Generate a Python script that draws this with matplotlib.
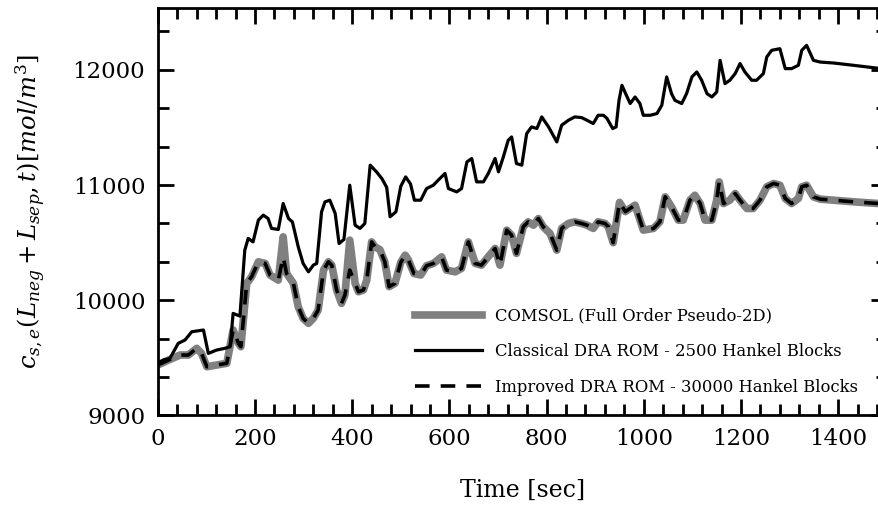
import numpy as np
import matplotlib
matplotlib.use("Agg")
from matplotlib import pyplot as plt
from matplotlib.ticker import MultipleLocator

# time [s] and concentration [mol/m^3]
t_comsol = [0, 22, 46, 63, 80, 90, 101, 121, 142, 155, 166, 171, 183, 193, 207, 221, 231, 248, 258, 265,
            279, 289, 299, 310, 320, 330, 341, 351, 358, 368, 378, 385, 395, 406, 413, 423, 430, 440, 447, 457,
            467, 476, 488, 500, 509, 515, 527, 541, 553, 567, 584, 594, 612, 625, 639, 653, 666, 677, 694, 704,
            718, 728, 738, 752, 762, 773, 783, 793, 807, 821, 831, 845, 858, 872, 883, 896, 906, 920, 927, 937,
            950, 962, 982, 999, 1020, 1033, 1044, 1057, 1071, 1081, 1095, 1105, 1116, 1126, 1140, 1150, 1155, 1164,
            1177, 1188, 1198, 1212, 1225, 1239, 1253, 1267, 1280, 1291, 1304, 1318, 1325, 1335, 1349, 1363, 1390,
            1431, 1500]
c_comsol = [9438, 9481, 9525, 9525, 9583, 9539, 9423, 9438, 9453, 9742, 9626, 9597, 10147, 10204, 10334, 10320,
            10219, 10175, 10551, 10233, 10147, 9944, 9843, 9800, 9843, 9915, 10262, 10334, 10305, 10089, 9973,
            10045, 10522, 10147, 10074, 10089, 10175, 10507, 10464, 10440, 10335, 10118, 10147, 10330, 10392,
            10355, 10233, 10219, 10300, 10320, 10377, 10262, 10247, 10277, 10507, 10320, 10305, 10363, 10450,
            10305, 10609, 10565, 10407, 10638, 10681, 10652, 10710, 10638, 10580, 10435, 10624, 10667, 10681,
            10667, 10652, 10624, 10681, 10667, 10638, 10500, 10850, 10770, 10826, 10609, 10624, 10681, 10898,
            10811, 10696, 10696, 10869, 10912, 10840, 10696, 10696, 10869, 11028, 10840, 10869, 10927, 10869,
            10797, 10797, 10869, 10985, 11014, 10999, 10884, 10840, 10884, 10985, 10999, 10898, 10878, 10869,
            10855, 10835]

# improved ROM follows COMSOL except at a couple of spikes
c_improved = list(c_comsol)
c_improved[t_comsol.index(258)] = 10377
c_improved[t_comsol.index(395)] = 10262

t_classical = [0, 11, 25, 42, 56, 70, 94, 104, 121, 138, 149, 155, 169, 179, 186, 196, 207, 217, 227, 234,
               248, 258, 269, 277, 289, 299, 310, 320, 327, 337, 344, 354, 365, 373, 383, 395, 406, 416, 426, 437,
               450, 461, 471, 478, 490, 500, 510, 520, 528, 541, 553, 567, 577, 591, 598, 615, 625, 636, 646, 656,
               670, 680, 694, 701, 711, 721, 728, 738, 749, 759, 769, 780, 790, 804, 821, 831, 845, 858, 872, 883,
               896, 906, 917, 924, 936, 943, 949, 955, 963, 972, 982, 992, 999, 1013, 1027, 1037, 1047, 1057, 1064,
               1078, 1088, 1099, 1109, 1119, 1130, 1140, 1150, 1157, 1167, 1177, 1188, 1198, 1208, 1222, 1232, 1246,
               1253, 1263, 1280, 1291, 1304, 1318, 1325, 1335, 1349, 1363, 1390, 1431, 1500]
c_classical = [9452, 9481, 9496, 9626, 9655, 9727, 9742, 9539, 9568, 9583, 9597, 9886, 9863, 10435, 10537, 10507,
               10696, 10739, 10710, 10624, 10615, 10840, 10710, 10680, 10464, 10320, 10247, 10305, 10320, 10768,
               10854, 10869, 10754, 10493, 10528, 10999, 10652, 10624, 10667, 11173, 11115, 11057, 10980, 10725,
               10768, 10990, 11071, 11010, 10869, 10869, 10970, 10999, 11043, 11101, 10970, 10941, 10970, 11201,
               11231, 11028, 11028, 11101, 11231, 11115, 11245, 11389, 11418, 11187, 11173, 11447, 11505, 11491,
               11592, 11505, 11375, 11520, 11563, 11592, 11586, 11563, 11534, 11606, 11606, 11580, 11491, 11505,
               11736, 11866, 11790, 11708, 11765, 11708, 11606, 11606, 11621, 11693, 11939, 11794, 11736, 11708,
               11794, 11939, 11982, 11910, 11794, 11765, 11808, 12083, 11881, 11910, 11968, 12055, 11982, 11910,
               11910, 11968, 12112, 12170, 12184, 12011, 12011, 12040, 12170, 12213, 12083, 12068, 12060, 12040,
               12005]

labels = ["COMSOL (Full Order Pseudo-2D)",
          "Classical DRA ROM - 2500 Hankel Blocks",
          "Improved DRA ROM - 30000 Hankel Blocks"]

plt.rcParams["font.family"] = "DejaVu Serif"
plt.rcParams["mathtext.fontset"] = "dejavuserif"
plt.rcParams["lines.scale_dashes"] = False

fig = plt.figure(figsize=(8.79, 5.07), dpi=100)
ax = fig.add_axes([0.1795, 0.1805, 0.8294, 0.8032])

ax.plot(t_comsol, c_comsol, color="#808080", lw=5.5, label=labels[0])
ax.plot(t_classical, c_classical, color="black", lw=2.3, label=labels[1])
ax.plot(t_comsol, c_improved, color="black", lw=2.6, dashes=(10.5, 8), label=labels[2])

ax.set_xlim(0, 1500)
ax.set_ylim(9000, 12535)
ax.xaxis.set_major_locator(MultipleLocator(200))
ax.xaxis.set_minor_locator(MultipleLocator(40))
ax.yaxis.set_major_locator(MultipleLocator(1000))
ax.yaxis.set_minor_locator(MultipleLocator(1000 / 3))
ax.tick_params(which="both", direction="in", top=True, right=True, width=2, labelsize=16.5, pad=9)
ax.tick_params(which="major", length=11.5)
ax.tick_params(which="minor", length=8)
for s in ax.spines.values():
    s.set_linewidth(2)

ax.set_xlabel("Time [sec]", fontsize=17, labelpad=21)
ax.set_ylabel(r"$c_{s,e}(L_{neg}+L_{sep},t)[mol/m^3]$", fontsize=17.5, labelpad=18)

ax.legend(loc="lower left", bbox_to_anchor=(0.333, 0.012), frameon=False, fontsize=11.75,
          handlelength=4.1, handletextpad=0.8, labelspacing=1.15)

fig.savefig("out.png", dpi=100)
